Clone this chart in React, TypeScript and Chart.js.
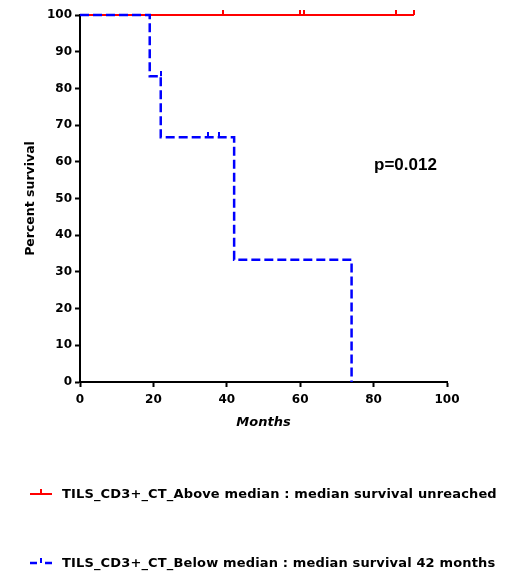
import React, { useEffect, useRef } from "react";
import { Chart, registerables } from "chart.js";
Chart.register(...registerables);

// Kaplan-Meier data (months, percent survival)
const aboveTimes = [0, 91];
const aboveSurvival = [100, 100];
const aboveCensorTimes = [39, 60, 61, 86, 91];
const aboveCensorSurvival = [100, 100, 100, 100, 100];

const belowTimes = [0, 19, 22, 42, 74];
const belowSurvival = [100, 83.33, 66.67, 33.33, 0];
const belowCensorTimes = [22, 35, 38];
const belowCensorSurvival = [83.33, 66.67, 66.67];

const xTicks = [0, 20, 40, 60, 80, 100];
const yTicks = [0, 10, 20, 30, 40, 50, 60, 70, 80, 90, 100];

const aboveLabel = "TILS_CD3+_CT_Above median : median survival unreached";
const belowLabel = "TILS_CD3+_CT_Below median : median survival 42 months";
const pText = "p=0.012";

const RED = "#ff0000";
const BLUE = "#0000ff";
const FONT = "'DejaVu Sans', sans-serif";

function tickMark(color: string, w: number, h: number) {
  const c = document.createElement("canvas");
  c.width = w;
  c.height = h * 2;
  const ctx = c.getContext("2d")!;
  ctx.fillStyle = color;
  ctx.fillRect(0, 0, w, h);
  return c;
}

function toPoints(xs: number[], ys: number[]) {
  return xs.map((x, i) => ({ x, y: ys[i] }));
}

export default function App() {
  const ref = useRef<HTMLCanvasElement | null>(null);

  useEffect(() => {
    if (!ref.current) return;
    const redTick = tickMark(RED, 2, 5);
    const blueTick = tickMark(BLUE, 2, 5);
    const chart = new Chart(ref.current, {
      type: "scatter",
      data: {
        datasets: [
          {
            label: "belowCensor",
            data: toPoints(belowCensorTimes, belowCensorSurvival),
            showLine: false,
            pointStyle: blueTick as any,
            clip: false as any,
            order: 0,
          },
          {
            label: "below",
            data: toPoints(belowTimes, belowSurvival),
            showLine: true,
            stepped: "before",
            borderColor: BLUE,
            borderWidth: 2.5,
            borderDash: [9, 4],
            pointRadius: 0,
            clip: false as any,
            order: 1,
          },
          {
            label: "aboveCensor",
            data: toPoints(aboveCensorTimes, aboveCensorSurvival),
            showLine: false,
            pointStyle: redTick as any,
            clip: false as any,
            order: 2,
          },
          {
            label: "above",
            data: toPoints(aboveTimes, aboveSurvival),
            showLine: true,
            stepped: "before",
            borderColor: RED,
            borderWidth: 2,
            pointRadius: 0,
            clip: false as any,
            order: 3,
          },
        ],
      },
      options: {
        responsive: false,
        animation: false,
        layout: { padding: { left: 0, top: 15, right: 80, bottom: 153 } },
        plugins: { legend: { display: false }, tooltip: { enabled: false } },
        scales: {
          x: {
            type: "linear",
            min: 0,
            max: 100,
            afterBuildTicks: (s: any) => {
              s.ticks = xTicks.map((v) => ({ value: v }));
            },
            afterFit: (s: any) => {
              s.height = 48;
            },
            ticks: {
              color: "#000",
              font: { family: FONT, size: 12, weight: "bold" },
              padding: 6,
              maxRotation: 0,
            },
            grid: {
              drawOnChartArea: false,
              drawTicks: true,
              tickLength: 5,
              tickColor: "#000",
              tickWidth: 2,
            },
            border: { color: "#000", width: 2 },
            title: {
              display: true,
              text: "Months",
              color: "#000",
              font: { family: FONT, size: 13, weight: "bold", style: "italic" },
              padding: { top: 10, bottom: 0 },
            },
          },
          y: {
            type: "linear",
            min: 0,
            max: 100,
            afterBuildTicks: (s: any) => {
              s.ticks = yTicks.map((v) => ({ value: v }));
            },
            afterFit: (s: any) => {
              s.width = 80;
            },
            ticks: {
              color: "#000",
              font: { family: FONT, size: 12, weight: "bold" },
              padding: 3,
            },
            grid: {
              drawOnChartArea: false,
              drawTicks: true,
              tickLength: 5,
              tickColor: "#000",
              tickWidth: 2,
            },
            border: { color: "#000", width: 2 },
            title: {
              display: true,
              text: "Percent survival",
              color: "#000",
              font: { family: FONT, size: 12.5, weight: "bold" },
              padding: { top: 23, bottom: 0 },
            },
          },
        },
      },
    });
    return () => chart.destroy();
  }, []);

  const legendText: React.CSSProperties = {
    position: "absolute",
    left: 62,
    fontFamily: FONT,
    fontWeight: "bold",
    fontSize: 13,
    letterSpacing: "0.15px",
    lineHeight: "15px",
    color: "#000",
    whiteSpace: "nowrap",
  };

  return (
    <div style={{ position: "absolute", left: 0, top: 0, width: 527, height: 583, background: "#fff" }}>
      <canvas ref={ref} width={527} height={583} style={{ display: "block" }} />
      <div
        style={{
          position: "absolute",
          left: 374,
          top: 155,
          fontFamily: "'Liberation Sans', Arial, sans-serif",
          fontWeight: "bold",
          fontSize: 17,
          lineHeight: "20px",
          color: "#000",
        }}
      >
        {pText}
      </div>
      <svg style={{ position: "absolute", left: 28, top: 484 }} width={26} height={16}>
        <line x1={2} y1={10} x2={24} y2={10} stroke={RED} strokeWidth={2} />
        <line x1={13} y1={10} x2={13} y2={5} stroke={RED} strokeWidth={2} />
      </svg>
      <div style={{ ...legendText, top: 486 }}>{aboveLabel}</div>
      <svg style={{ position: "absolute", left: 28, top: 553 }} width={26} height={16}>
        <line x1={2} y1={10} x2={9} y2={10} stroke={BLUE} strokeWidth={2.5} />
        <line x1={17} y1={10} x2={24} y2={10} stroke={BLUE} strokeWidth={2.5} />
        <line x1={13} y1={10} x2={13} y2={5} stroke={BLUE} strokeWidth={2} />
      </svg>
      <div style={{ ...legendText, top: 555 }}>{belowLabel}</div>
    </div>
  );
}
